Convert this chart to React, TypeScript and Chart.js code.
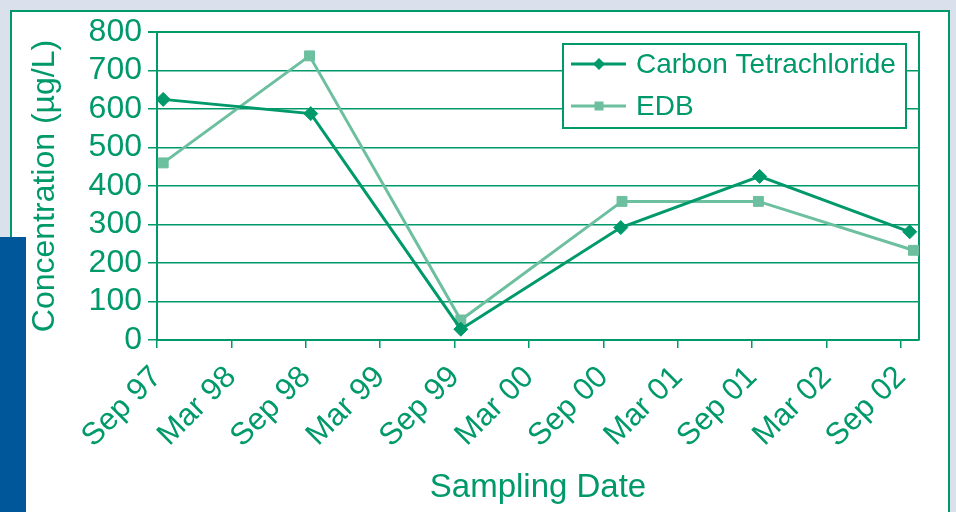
import React, { useEffect, useRef } from "react";
import { Chart, registerables } from "chart.js";

Chart.register(...registerables);

// Months after Sep 1997 for each axis tick, and the tick labels
const tickMonths = [0, 6, 12, 18, 24, 30, 36, 42, 48, 54, 60];
const tickLabels = ["Sep 97", "Mar 98", "Sep 98", "Mar 99", "Sep 99", "Mar 00", "Sep 00", "Mar 01", "Sep 01", "Mar 02", "Sep 02"];
const yTicks = [0, 100, 200, 300, 400, 500, 600, 700, 800];

// Sampling dates (months after Sep 1997) and concentrations (µg/L)
const ctMonths = [0.5, 12.4, 24.5, 37.4, 48.6, 60.7];
const ctValues = [625, 588, 28, 292, 425, 281];
const edbMonths = [0.5, 12.3, 24.5, 37.5, 48.5, 61.0];
const edbValues = [460, 738, 52, 360, 360, 233];

const seriesNames = ["Carbon Tetrachloride", "EDB"];

const GREEN = "#00996a";
const LIGHT = "#6cbf9f";
const FONT = "'Liberation Sans', Arial, Helvetica, sans-serif";

export default function App() {
  const ref = useRef<HTMLCanvasElement | null>(null);

  useEffect(() => {
    const canvas = ref.current;
    if (!canvas) return;

    const framePlugin = {
      id: "frame",
      beforeDatasetsDraw(chart: any) {
        const { ctx, chartArea } = chart;
        ctx.save();
        ctx.strokeStyle = GREEN;
        ctx.lineWidth = 2;
        ctx.beginPath();
        ctx.moveTo(chartArea.left, chartArea.top);
        ctx.lineTo(chartArea.right, chartArea.top);
        ctx.lineTo(chartArea.right, chartArea.bottom);
        ctx.stroke();
        ctx.restore();
      },
    };

    const legendPlugin = {
      id: "boxLegend",
      afterDatasetsDraw(chart: any) {
        const { ctx, chartArea } = chart;
        const w = 343;
        const h = 84;
        const x0 = chartArea.right - 13 - w;
        const y0 = chartArea.top + 12;
        ctx.save();
        ctx.fillStyle = "#ffffff";
        ctx.fillRect(x0, y0, w, h);
        ctx.strokeStyle = GREEN;
        ctx.lineWidth = 2;
        ctx.strokeRect(x0, y0, w, h);
        const rows = [y0 + 20, y0 + 62];
        const colors = [GREEN, LIGHT];
        rows.forEach((ry, i) => {
          ctx.strokeStyle = colors[i];
          ctx.lineWidth = 3;
          ctx.beginPath();
          ctx.moveTo(x0 + 8, ry);
          ctx.lineTo(x0 + 63, ry);
          ctx.stroke();
          ctx.fillStyle = colors[i];
          const cx = x0 + 36;
          if (i === 0) {
            ctx.beginPath();
            ctx.moveTo(cx, ry - 6);
            ctx.lineTo(cx + 6, ry);
            ctx.lineTo(cx, ry + 6);
            ctx.lineTo(cx - 6, ry);
            ctx.closePath();
            ctx.fill();
          } else {
            ctx.fillRect(cx - 4.5, ry - 4.5, 9, 9);
          }
          ctx.fillStyle = GREEN;
          ctx.font = `28px ${FONT}`;
          ctx.textBaseline = "middle";
          ctx.textAlign = "left";
          ctx.fillText(seriesNames[i], x0 + 73, ry + 1);
        });
        ctx.restore();
      },
    };

    const chart = new Chart(canvas, {
      type: "line",
      data: {
        datasets: [
          {
            label: seriesNames[0],
            data: ctMonths.map((m, i) => ({ x: m, y: ctValues[i] })),
            borderColor: GREEN,
            backgroundColor: GREEN,
            borderWidth: 3,
            pointStyle: "rectRot",
            pointRadius: 7,
            pointBorderWidth: 1,
            tension: 0,
          },
          {
            label: seriesNames[1],
            data: edbMonths.map((m, i) => ({ x: m, y: edbValues[i] })),
            borderColor: LIGHT,
            backgroundColor: LIGHT,
            borderWidth: 3,
            pointStyle: "rect",
            pointRadius: 7,
            pointBorderWidth: 1,
            tension: 0,
          },
        ],
      },
      options: {
        responsive: false,
        animation: false,
        devicePixelRatio: 1,
        layout: { padding: { left: 0, top: 32, right: 37, bottom: 0 } },
        plugins: { legend: { display: false }, tooltip: { enabled: false } },
        scales: {
          x: {
            type: "linear",
            min: 0,
            max: 61.45,
            afterBuildTicks: (scale: any) => {
              scale.ticks = tickMonths.map((v) => ({ value: v }));
            },
            afterFit: (scale: any) => {
              scale.height = 172;
            },
            ticks: {
              autoSkip: false,
              minRotation: 45,
              maxRotation: 45,
              padding: 11,
              color: GREEN,
              font: { family: FONT, size: 31 },
              callback: (v: any) => {
                const idx = tickMonths.indexOf(Number(v));
                return idx >= 0 ? tickLabels[idx] : "";
              },
            },
            grid: {
              drawOnChartArea: false,
              drawTicks: true,
              tickLength: 8,
              color: GREEN,
              lineWidth: 1.5,
            },
            border: { display: true, color: GREEN, width: 2 },
            title: {
              display: true,
              text: "Sampling Date",
              color: GREEN,
              font: { family: FONT, size: 33 },
              padding: { top: 0, bottom: 4 },
            },
          },
          y: {
            min: 0,
            max: 800,
            afterBuildTicks: (scale: any) => {
              scale.ticks = yTicks.map((v) => ({ value: v }));
            },
            afterFit: (scale: any) => {
              scale.width = 157;
            },
            ticks: {
              autoSkip: false,
              padding: 6,
              color: GREEN,
              font: { family: FONT, size: 32 },
            },
            grid: {
              color: GREEN,
              lineWidth: (c: any) => (c.tick && c.tick.value === 800 ? 2 : 1.5),
              tickLength: 9,
              drawTicks: true,
            },
            border: { display: true, color: GREEN, width: 2 },
            title: {
              display: true,
              text: "Concentration (µg/L)",
              color: GREEN,
              font: { family: FONT, size: 32 },
              padding: { top: 26, bottom: 0 },
            },
          },
        },
      },
      plugins: [framePlugin, legendPlugin],
    });

    return () => chart.destroy();
  }, []);

  return (
    <div
      style={{
        position: "fixed",
        left: 0,
        top: 0,
        width: 956,
        height: 512,
        overflow: "hidden",
        background: "#dae1ed",
      }}
    >
      <div
        style={{
          position: "absolute",
          left: 10,
          top: 10,
          width: 936,
          height: 600,
          border: `2px solid ${GREEN}`,
          background: "#ffffff",
        }}
      />
      <div
        style={{
          position: "absolute",
          left: 0,
          top: 237,
          width: 26,
          height: 275,
          background: "#00589b",
        }}
      />
      <canvas
        ref={ref}
        width={956}
        height={512}
        style={{ position: "absolute", left: 0, top: 0, width: 956, height: 512 }}
      />
    </div>
  );
}
